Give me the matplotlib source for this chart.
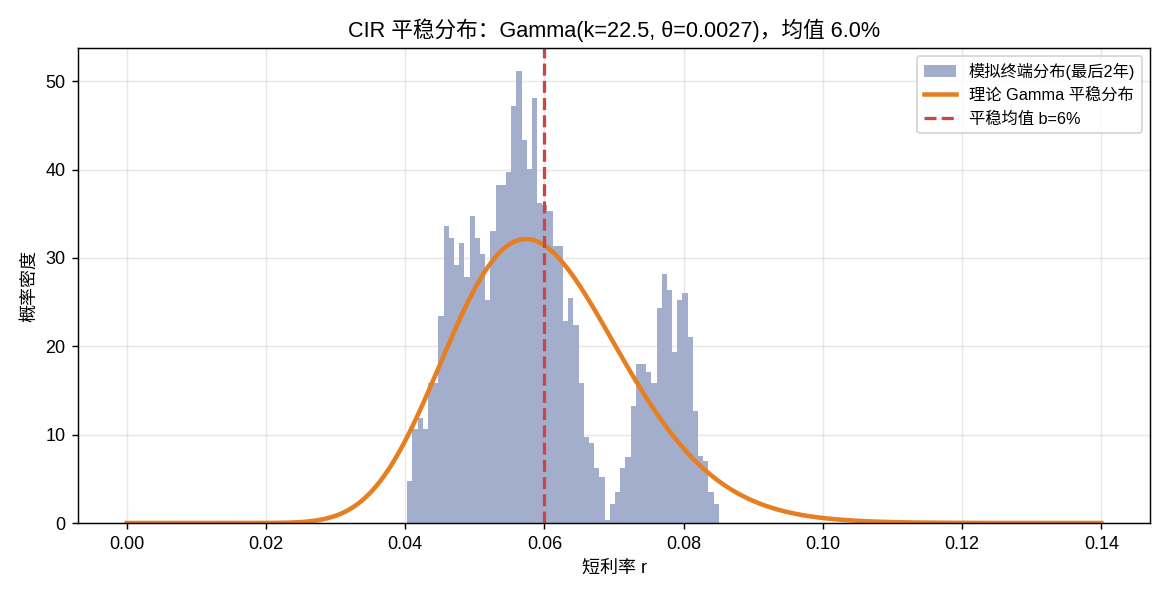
import math
import numpy as np
import matplotlib
matplotlib.use("Agg")
import matplotlib.pyplot as plt

plt.rcParams['font.family'] = ['Liberation Sans', 'Noto Sans CJK SC', 'DejaVu Sans']
plt.rcParams['axes.unicode_minus'] = False

# Histogram of simulated terminal distribution (density per bin)
bin_start = 0.0403
bin_end = 0.08506
n_bins = 60
hist_density = [
    4.76, 10.6, 11.9, 10.6, 15.9, 15.9, 23.4, 33.6, 32.2, 29.2,
    31.7, 27.8, 34.8, 32.2, 30.4, 25.2, 33.1, 38.3, 38.3, 39.7,
    47.2, 51.2, 43.3, 40.1, 48.1, 36.2, 36.0, 35.3, 31.3, 31.3,
    22.9, 25.5, 22.4, 15.9, 9.7, 9.1, 6.2, 5.2, 0.3, 2.15,
    3.5, 6.2, 7.5, 13.2, 18.0, 18.0, 17.1, 15.9, 24.3, 28.2,
    26.4, 19.4, 25.2, 26.0, 21.1, 12.7, 7.6, 7.0, 3.5, 2.15,
]

# Theoretical stationary Gamma distribution
k_shape = 22.5
b_mean = 0.06
theta = b_mean / k_shape
r_min, r_max = 0.0, 0.14

edges = np.linspace(bin_start, bin_end, n_bins + 1)
widths = np.diff(edges)

r = np.linspace(r_min, r_max, 600)
pdf = np.zeros_like(r)
pos = r > 0
pdf[pos] = np.exp((k_shape - 1) * np.log(r[pos]) - r[pos] / theta
                  - math.lgamma(k_shape) - k_shape * math.log(theta))

fig, ax = plt.subplots(figsize=(9, 4.6), dpi=130)
ax.set_axisbelow(True)
ax.bar(edges[:-1], hist_density, width=widths, align='edge',
       color='#a2aecb', linewidth=0, label='模拟终端分布(最后2年)')
ax.plot(r, pdf, color='#e67e22', lw=2.5, label='理论 Gamma 平稳分布')
ax.axvline(b_mean, color='#cc4444', ls='--', lw=1.8, label='平稳均值 b=6%')

ax.grid(True, alpha=0.3)
ax.set_xlabel('短利率 r', fontsize=10)
ax.set_ylabel('概率密度', fontsize=10)
ax.set_title(f'CIR 平稳分布：Gamma(k={k_shape}, θ={theta:.4f})，均值 {b_mean*100:.1f}%', fontsize=12)

handles, labels = ax.get_legend_handles_labels()
order = [2, 0, 1]
ax.legend([handles[i] for i in order], [labels[i] for i in order],
          loc='upper right', fontsize=9)

fig.subplots_adjust(left=78/1170, right=1150/1170, top=1-48/598, bottom=1-523/598)
fig.savefig('out.png', dpi=130)
